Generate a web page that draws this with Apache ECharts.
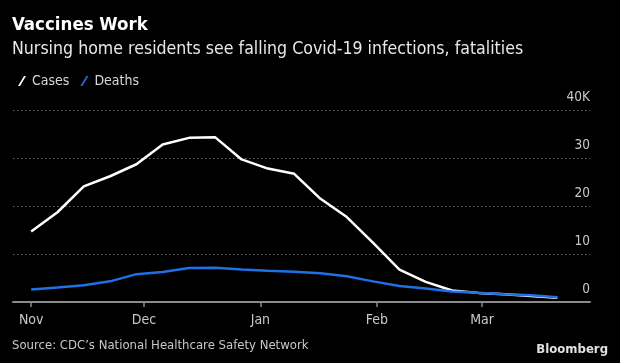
<!DOCTYPE html>
<html>
<head>
<meta charset="utf-8">
<script src="https://cdn.jsdelivr.net/npm/echarts@6/dist/echarts.min.js"></script>
<style>
html,body{margin:0;padding:0;background:#000;}
#c{width:620px;height:363px;}
</style>
</head>
<body>
<div id="c"></div>
<script>
// Weekly dates (week starting), 2020-11-01 .. 2021-03-21
const weekStarts = [
  [2020,11,1],[2020,11,8],[2020,11,15],[2020,11,22],[2020,11,29],
  [2020,12,6],[2020,12,13],[2020,12,20],[2020,12,27],
  [2021,1,3],[2021,1,10],[2021,1,17],[2021,1,24],[2021,1,31],
  [2021,2,7],[2021,2,14],[2021,2,21],[2021,2,28],
  [2021,3,7],[2021,3,14],[2021,3,21]
];
const cases = [14700,18700,24100,26200,28700,32800,34200,34300,29700,27800,26700,21500,17700,12300,6750,4200,2400,1900,1600,1250,900];
const deaths = [2580,3000,3500,4300,5800,6250,7100,7150,6750,6500,6300,6000,5350,4300,3350,2800,2200,1950,1600,1400,1000];
const yTicks = [0,10000,20000,30000,40000];

const FONT = '"DejaVu Sans Condensed","Liberation Sans Narrow","DejaVu Sans",sans-serif';
const toTime = d => new Date(d[0], d[1]-1, d[2]).getTime();
const times = weekStarts.map(toTime);

const chart = echarts.init(document.getElementById('c'), null, {renderer:'canvas'});
chart.setOption({
  backgroundColor:'#000',
  animation:false,
  textStyle:{fontFamily:FONT},
  graphic:[
    {type:'text', left:12, top:16, style:{text:'Vaccines Work', fill:'#fff', font:'bold 18.5px '+FONT}},
    {type:'text', left:12, top:40, style:{text:'Nursing home residents see falling Covid-19 infections, fatalities', fill:'#e8e8e8', font:'17.6px '+FONT}},
    {type:'text', left:12, top:339, style:{text:'Source: CDC\u2019s National Healthcare Safety Network', fill:'#c8c8c8', font:'13px '+FONT}},
    {type:'text', right:12, top:343, style:{text:'Bloomberg', fill:'#e0e0e0', font:'bold 13px "Liberation Sans Narrow","DejaVu Sans Condensed",sans-serif'}}
  ],
  legend:{
    left:13, top:69, itemWidth:8, itemHeight:11, itemGap:11,
    textStyle:{color:'#d8d8d8', fontSize:14, fontFamily:FONT, padding:[0,0,0,1]},
    data:[
      {name:'Cases', icon:'path://M0,10 L2,10 L8,0 L6,0 Z', itemStyle:{color:'#fff'}},
      {name:'Deaths', icon:'path://M0,10 L2,10 L8,0 L6,0 Z', itemStyle:{color:'#1f6fe5'}}
    ]
  },
  grid:{left:13, right:30, top:110, bottom:61},
  xAxis:{
    type:'time',
    min:new Date(2020,9,27,4).getTime(),
    max:new Date(2021,2,29,17).getTime(),
    minInterval:28*86400000,
    maxInterval:31*86400000,
    axisLine:{show:true, lineStyle:{color:'#8a8a8a', width:2}},
    axisTick:{show:true, length:5, lineStyle:{color:'#8a8a8a', width:1.5}},
    splitLine:{show:false},
    axisLabel:{
      color:'#c8c8c8', fontSize:14, fontFamily:FONT, margin:11,
      showMinLabel:false, showMaxLabel:false,
      formatter:function(v){
        const d=new Date(v);
        if(d.getDate()!==1) return '';
        return ['Jan','Feb','Mar','Apr','May','Jun','Jul','Aug','Sep','Oct','Nov','Dec'][d.getMonth()];
      }
    }
  },
  yAxis:{
    type:'value', position:'right', min:0, max:40000, interval:10000,
    axisLine:{show:false}, axisTick:{show:false},
    splitLine:{show:true, lineStyle:{color:'#6a6a6a', type:[1.5,2.5], width:1}},
    axisLabel:{
      inside:true, margin:0, verticalAlign:'bottom', padding:[0,0,6,0],
      color:'#c8c8c8', fontSize:13.5, fontFamily:FONT,
      formatter:function(v){ return v===40000 ? '40K' : String(v/1000); }
    }
  },
  series:[
    {name:'Cases', type:'line', showSymbol:false, data:times.map((t,i)=>[t,cases[i]]),
     lineStyle:{color:'#fff', width:2.5}, itemStyle:{color:'#fff'}},
    {name:'Deaths', type:'line', showSymbol:false, data:times.map((t,i)=>[t,deaths[i]]),
     lineStyle:{color:'#1f6fe5', width:2.5}, itemStyle:{color:'#1f6fe5'}}
  ]
});
</script>
</body>
</html>
